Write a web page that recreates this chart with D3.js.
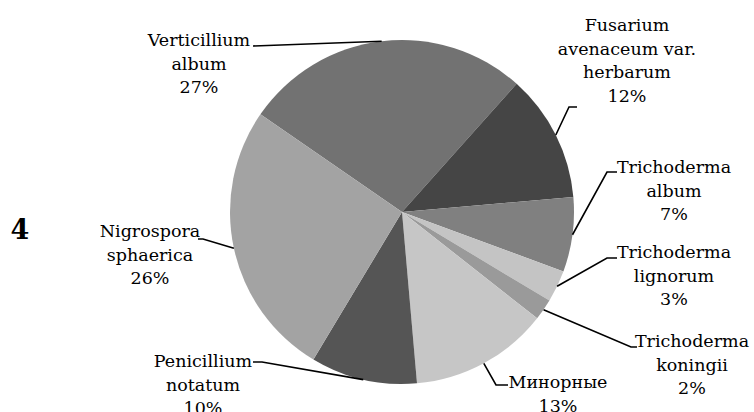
<!DOCTYPE html>
<html>
<head>
<meta charset="utf-8">
<script src="https://cdn.jsdelivr.net/npm/d3@7"></script>
<style>
  body { margin: 0; background: #fff; }
</style>
</head>
<body>
<svg id="chart" width="754" height="412"></svg>
<script>
// data
const names = ["Verticillium album", "Fusarium avenaceum var. herbarum", "Trichoderma album",
  "Trichoderma lignorum", "Trichoderma koningii", "Минорные", "Penicillium notatum", "Nigrospora sphaerica"];
const values = [27, 12, 7, 3, 2, 13, 10, 26];
const labelLines = [
  ["Verticillium", "album", "27%"],
  ["Fusarium", "avenaceum var.", "herbarum", "12%"],
  ["Trichoderma", "album", "7%"],
  ["Trichoderma", "lignorum", "3%"],
  ["Trichoderma", "koningii", "2%"],
  ["Минорные", "13%"],
  ["Penicillium", "notatum", "10%"],
  ["Nigrospora", "sphaerica", "26%"]
];
const colors = ["#727272", "#454545", "#808080", "#c4c4c4", "#9a9a9a", "#c6c6c6", "#555555", "#a3a3a3"];

// layout for labels: text centre, first baseline, leader elbow points
const labelPos = [
  { x: 199, y: 46, pts: [[253, 46]] },
  { x: 627, y: 31, pts: [[569, 107], [577, 107]] },
  { x: 674, y: 173, pts: [[607, 172], [617, 172]] },
  { x: 674, y: 258, pts: [[607, 258], [617, 258]] },
  { x: 692, y: 347, pts: [[631, 347], [637, 347]] },
  { x: 558, y: 388, pts: [[496, 385], [508, 385]] },
  { x: 203, y: 367, pts: [[262, 362], [253, 362]] },
  { x: 150, y: 237, pts: [[203, 239], [198, 239]] }
];

const cx = 402, cy = 212, r = 172;
const lineH = 23.5;
const serif = '"DejaVu Serif"'; // the only serif face that renders reliably here

const svg = d3.select("#chart");

const start = -55.4 * Math.PI / 180;
const pie = d3.pie().sort(null).startAngle(start).endAngle(start + 2 * Math.PI);
const arcs = pie(values);
const arc = d3.arc().innerRadius(0).outerRadius(r);
const edge = d3.arc().innerRadius(r).outerRadius(r);

const g = svg.append("g").attr("transform", `translate(${cx},${cy})`);

g.selectAll("path.slice")
  .data(arcs)
  .join("path")
  .attr("class", "slice")
  .attr("fill", (d, i) => colors[i])
  .attr("d", arc);

// leader lines
const line = d3.line();
svg.selectAll("path.leader")
  .data(arcs)
  .join("path")
  .attr("class", "leader")
  .attr("fill", "none")
  .attr("stroke", "#000")
  .attr("stroke-width", 1.6)
  .attr("d", (d, i) => {
    const c = edge.centroid(d);
    return line([[cx + c[0], cy + c[1]], ...labelPos[i].pts]);
  });

// labels
labelLines.forEach((lines, i) => {
  const p = labelPos[i];
  lines.forEach((l, j) => {
    svg.append("text")
      .attr("x", p.x)
      .attr("y", p.y + j * lineH)
      .attr("text-anchor", "middle")
      .attr("font-size", 17.5)
      .style("font-family", serif)
      .text(l);
  });
});

svg.append("text")
  .attr("x", 20)
  .attr("y", 239)
  .attr("text-anchor", "middle")
  .style("font-family", serif)
  .attr("font-weight", "bold")
  .attr("font-size", 27)
  .text("4");
</script>
</body>
</html>
